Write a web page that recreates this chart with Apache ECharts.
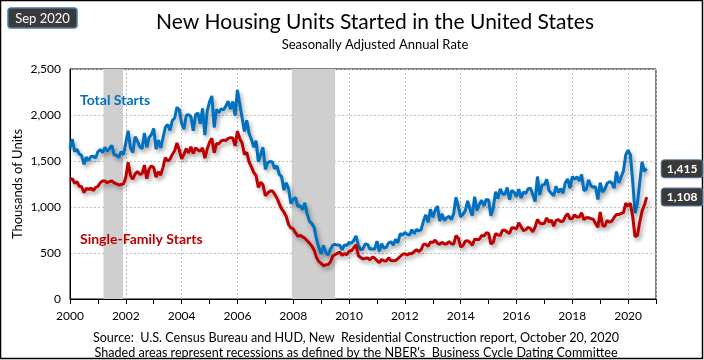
<!DOCTYPE html>
<html>
<head>
<meta charset="utf-8">
<script src="https://cdn.jsdelivr.net/npm/echarts@6/dist/echarts.min.js"></script>
<style>html,body{margin:0;padding:0;background:#fff}#c{width:704px;height:360px}</style>
</head>
<body>
<div id="c"></div>
<script>
const startYear = 2000;
const totalStarts = [
  1636,1737,1604,1626,1575,1559,1463,1541,1507,1549,1551,1532,
  1600,1625,1590,1649,1605,1636,1670,1567,1562,1540,1602,1568,
  1698,1829,1642,1592,1764,1717,1655,1633,1804,1648,1753,1788,
  1853,1629,1726,1643,1751,1867,1897,1833,1939,1967,2083,2057,
  1911,1846,1998,2003,1981,1828,2002,2024,1905,2072,1782,2042,
  2144,2207,1864,2061,2025,2068,2054,2095,2151,2065,2147,1994,
  2273,2119,1969,1821,1942,1802,1737,1650,1720,1491,1570,1649,
  1409,1480,1495,1490,1415,1448,1354,1330,1183,1264,1197,1037,
  1084,1103,1005,1013,973,1046,923,844,820,777,652,560,
  490,582,505,478,540,585,594,586,585,534,588,581,
  614,604,636,687,583,536,546,599,594,543,545,539,
  630,517,600,554,561,608,623,585,650,610,711,694,
  723,704,695,753,708,757,740,754,847,915,833,976,
  888,962,1010,847,925,852,883,898,863,930,1106,1001,
  893,920,961,1066,978,906,1112,962,1025,1073,1012,1083,
  1077,904,986,1165,1091,1197,1144,1135,1211,1081,1180,1159,
  1115,1193,1097,1164,1146,1199,1203,1136,1059,1331,1131,1239,
  1241,1300,1177,1150,1122,1226,1157,1198,1150,1264,1305,1204,
  1331,1302,1328,1283,1353,1176,1193,1296,1231,1215,1220,1081,
  1264,1163,1195,1257,1276,1262,1204,1385,1262,1327,1390,1567,
  1617,1567,1269,934,1038,1265,1492,1388,1415
];
const singleFamilyStarts = [
  1292,1309,1257,1275,1225,1220,1156,1202,1191,1205,1179,1212,
  1224,1264,1282,1284,1263,1278,1283,1262,1251,1239,1245,1251,
  1322,1487,1342,1302,1358,1386,1356,1362,1456,1307,1411,1448,
  1427,1325,1381,1348,1431,1536,1501,1519,1571,1611,1697,1617,
  1524,1572,1634,1586,1654,1582,1642,1621,1606,1644,1531,1629,
  1704,1747,1589,1690,1687,1718,1728,1721,1746,1754,1750,1664,
  1823,1743,1695,1571,1594,1491,1437,1377,1342,1212,1268,1241,
  1122,1150,1173,1174,1139,1097,1036,979,946,897,810,772,
  762,718,682,692,676,660,634,606,575,531,452,406,
  387,361,372,375,402,468,482,496,510,474,494,481,
  519,525,556,588,470,451,434,442,446,425,455,446,
  417,396,429,416,413,447,419,416,419,439,462,487,
  492,478,494,493,516,535,516,536,595,594,573,619,
  613,641,606,593,617,598,599,625,601,596,689,661,
  567,580,627,633,614,584,649,648,647,691,684,720,
  713,598,616,710,697,688,748,748,729,713,776,772,
  761,828,785,742,753,780,766,730,780,866,826,817,
  824,881,836,858,792,853,862,842,844,896,927,872,
  876,915,890,892,937,862,883,883,873,868,820,780,
  946,800,790,855,834,847,886,919,918,930,940,1042,
  1010,1040,890,677,690,835,955,1021,1108
];
const recessions = [[2001.2, 2001.9], [2007.95, 2009.5]];
const yTicks = [0, 500, 1000, 1500, 2000, 2500];
const xRange = [2000, 2021];
const titleText = 'New Housing Units Started in the United States';
const subtitleText = 'Seasonally Adjusted Annual Rate';
const badgeText = 'Sep 2020';
const seriesNames = ['Total Starts', 'Single-Family Starts'];
const yAxisName = 'Thousands of Units';
const footerLines = [
  'Source:  U.S. Census Bureau and HUD, New  Residential Construction report, October 20, 2020',
  "Shaded areas represent recessions as defined by the NBER's  Business Cycle Dating Committee"
];

const toPoints = arr => arr.map((v, i) => [startYear + i / 12, v]);
const FONT = 'Lato, "Open Sans", sans-serif';
const fmt = v => v.toLocaleString('en-US');

const chart = echarts.init(document.getElementById('c'), null, {renderer: 'canvas'});
const shadow = {shadowColor: 'rgba(0,0,0,0.35)', shadowBlur: 4, shadowOffsetX: 2, shadowOffsetY: 3};
const endLabel = {
  show: true, distance: 15, formatter: p => fmt(p.value[1]),
  backgroundColor: '#3a3a3a', borderColor: '#5a7ea6', borderWidth: 1, borderRadius: 3,
  padding: [3, 5, 2, 5], color: '#fff', fontWeight: 'bold', fontSize: 12, fontFamily: FONT
};

chart.setOption({
  animation: false,
  textStyle: {fontFamily: FONT},
  grid: {left: 70, right: 48, top: 69, bottom: 61, show: true, borderColor: '#000', borderWidth: 1, backgroundColor: 'transparent'},
  xAxis: [
    {type: 'value', min: xRange[0], max: xRange[1], interval: 1,
     axisLine: {show: true, lineStyle: {color: '#000', width: 1}},
     axisTick: {show: true, length: 5, lineStyle: {color: '#000'}},
     axisLabel: {show: false}, splitLine: {show: false}},
    {type: 'value', min: xRange[0], max: xRange[1], interval: 2, position: 'bottom',
     axisLine: {show: false}, axisTick: {show: false},
     axisLabel: {show: true, showMaxLabel: false, margin: 11, color: '#000', fontSize: 12, formatter: v => String(v)},
     splitLine: {show: true, lineStyle: {type: [2, 2], color: '#c0c0c0', width: 1}}}
  ],
  yAxis: {
    type: 'value', min: yTicks[0], max: yTicks[yTicks.length - 1], interval: yTicks[1] - yTicks[0],
    axisLine: {show: true, lineStyle: {color: '#000'}}, axisTick: {show: false},
    axisLabel: {color: '#000', fontSize: 12, margin: 9, formatter: v => fmt(v)},
    splitLine: {show: true, lineStyle: {type: [2, 2], color: '#c0c0c0', width: 1}}
  },
  series: [
    {name: seriesNames[0], type: 'line', xAxisIndex: 0, showSymbol: false, data: toPoints(totalStarts),
     lineStyle: Object.assign({color: '#0070C0', width: 3}, shadow), itemStyle: {color: '#0070C0'},
     endLabel: endLabel, z: 3,
     markArea: {silent: true, itemStyle: {color: '#cfcfcf'}, data: recessions.map(r => [{xAxis: r[0]}, {xAxis: r[1]}])}},
    {name: seriesNames[1], type: 'line', xAxisIndex: 0, showSymbol: false, data: toPoints(singleFamilyStarts),
     lineStyle: Object.assign({color: '#C00000', width: 3}, shadow), itemStyle: {color: '#C00000'},
     endLabel: endLabel, z: 3}
  ],
  graphic: [
    {type: 'rect', shape: {x: 0.5, y: 0.5, width: 702, height: 358}, style: {fill: 'none', stroke: '#000', lineWidth: 1.5}, silent: true},
    {type: 'rect', shape: {x: 8, y: 8, width: 69, height: 20, r: 3}, style: {fill: '#3a3a3a', stroke: '#4d79a6', lineWidth: 1.5}},
    {type: 'text', x: 42.5, y: 18.5, style: {text: badgeText, align: 'center', verticalAlign: 'middle', fill: '#fff', font: '13px ' + FONT}},
    {type: 'text', x: 375, y: 22, style: {text: titleText, align: 'center', verticalAlign: 'middle', fill: '#000', font: '21px ' + FONT}},
    {type: 'text', x: 375, y: 45, style: {text: subtitleText, align: 'center', verticalAlign: 'middle', fill: '#000', font: '13px ' + FONT}},
    {type: 'text', x: 18, y: 184, rotation: Math.PI / 2, style: {text: yAxisName, align: 'center', verticalAlign: 'middle', fill: '#000', font: '13px ' + FONT}},
    {type: 'text', x: 80, y: 100, z: 10, style: {text: seriesNames[0], align: 'left', verticalAlign: 'middle', fill: '#0070C0', font: 'bold 14px ' + FONT}},
    {type: 'text', x: 80, y: 239, z: 10, style: {text: seriesNames[1], align: 'left', verticalAlign: 'middle', fill: '#C00000', font: 'bold 14px ' + FONT}},
    {type: 'text', x: 356, y: 338, style: {text: footerLines[0], align: 'center', verticalAlign: 'middle', fill: '#000', font: '12.6px ' + FONT}},
    {type: 'text', x: 356, y: 353, style: {text: footerLines[1], align: 'center', verticalAlign: 'middle', fill: '#000', font: '12.6px ' + FONT}}
  ]
});
</script>
</body>
</html>
